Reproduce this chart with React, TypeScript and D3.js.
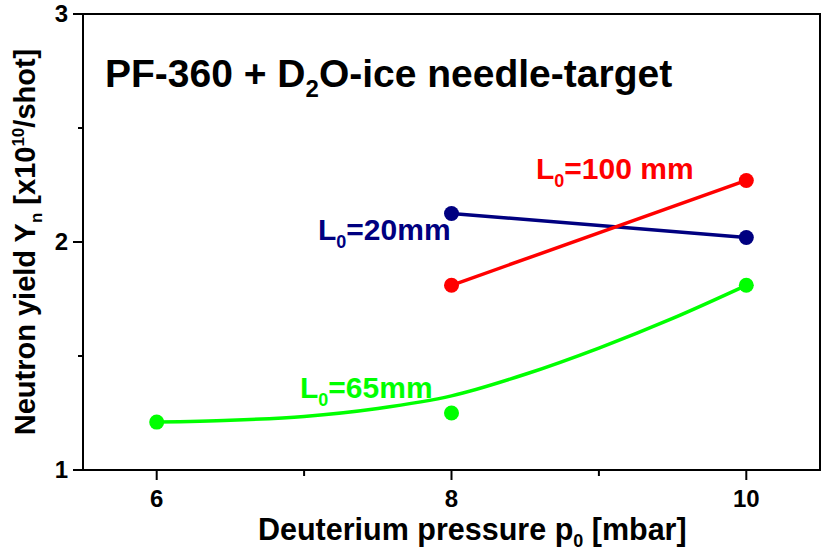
import * as d3 from "d3";

// data
const PRESSURE_L20 = [8, 10];
const YIELD_L20 = [2.125, 2.02];

const PRESSURE_L100 = [8, 10];
const YIELD_L100 = [1.81, 2.27];

const PRESSURE_L65 = [6, 8, 10];
const YIELD_L65 = [1.21, 1.25, 1.81];

// fitted curve drawn through the L0=65mm points
const FIT_X_L65 = [6, 6.5, 7, 7.5, 8, 8.5, 9, 9.5, 10];
const FIT_Y_L65 = [1.21, 1.218, 1.235, 1.27, 1.325, 1.42, 1.535, 1.665, 1.81];

const X_MAJOR = [6, 8, 10];
const X_MINOR = [7, 9];
const Y_MAJOR = [1, 2, 3];
const Y_MINOR = [1.5, 2.5];

const W = 822;
const H = 550;
const FRAME = { left: 83, right: 820, top: 14, bottom: 470 };
const FONT = "'Liberation Sans', Arial, sans-serif";

const NAVY = "#000080";
const RED = "#ff0000";
const GREEN = "#00ff00";

export default function App() {
  const x = d3.scaleLinear().domain([5.5, 10.5]).range([FRAME.left, FRAME.right]);
  const y = d3.scaleLinear().domain([1, 3]).range([FRAME.bottom, FRAME.top]);

  const straight = d3
    .line<[number, number]>()
    .x((d) => x(d[0]))
    .y((d) => y(d[1]));
  const smooth = straight.curve(d3.curveMonotoneX);

  const zip = (xs: number[], ys: number[]) =>
    xs.map((v, i) => [v, ys[i]] as [number, number]);

  const series = [
    { pts: zip(PRESSURE_L20, YIELD_L20), colour: NAVY, path: straight(zip(PRESSURE_L20, YIELD_L20)) },
    { pts: zip(PRESSURE_L100, YIELD_L100), colour: RED, path: straight(zip(PRESSURE_L100, YIELD_L100)) },
    { pts: zip(PRESSURE_L65, YIELD_L65), colour: GREEN, path: smooth(zip(FIT_X_L65, FIT_Y_L65)) },
  ];

  return (
    <svg
      width={W}
      height={H}
      style={{ position: "fixed", left: 0, top: 0, background: "#fff" }}
      fontFamily={FONT}
      fontWeight="bold"
    >
      {/* frame */}
      <rect
        x={FRAME.left}
        y={FRAME.top}
        width={FRAME.right - FRAME.left}
        height={FRAME.bottom - FRAME.top}
        fill="none"
        stroke="#000"
        strokeWidth={2}
      />

      {/* y ticks */}
      {Y_MAJOR.map((t) => (
        <g key={`ym${t}`}>
          <line x1={FRAME.left - 10} x2={FRAME.left} y1={y(t)} y2={y(t)} stroke="#000" strokeWidth={2} />
          <text x={FRAME.left - 15} y={y(t) + 8} textAnchor="end" fontSize={24}>
            {t}
          </text>
        </g>
      ))}
      {Y_MINOR.map((t) => (
        <line key={`yn${t}`} x1={FRAME.left - 5} x2={FRAME.left} y1={y(t)} y2={y(t)} stroke="#000" strokeWidth={2} />
      ))}

      {/* x ticks */}
      {X_MAJOR.map((t) => (
        <g key={`xm${t}`}>
          <line x1={x(t)} x2={x(t)} y1={FRAME.bottom} y2={FRAME.bottom + 10} stroke="#000" strokeWidth={2} />
          <text x={x(t)} y={FRAME.bottom + 37} textAnchor="middle" fontSize={24}>
            {t}
          </text>
        </g>
      ))}
      {X_MINOR.map((t) => (
        <line key={`xn${t}`} x1={x(t)} x2={x(t)} y1={FRAME.bottom} y2={FRAME.bottom + 6} stroke="#000" strokeWidth={2} />
      ))}

      {/* axis titles */}
      <text x={258} y={540} fontSize={30.5}>
        Deuterium pressure p<tspan fontSize={18} dy={7}>0</tspan>
        <tspan dy={-7}> [mbar]</tspan>
      </text>
      <text
        transform={`translate(35, ${(FRAME.top + FRAME.bottom) / 2}) rotate(-90)`}
        textAnchor="middle"
        fontSize={29}
      >
        Neutron yield Y<tspan fontSize={17} dy={7}>n</tspan>
        <tspan dy={-7}> [x10</tspan>
        <tspan fontSize={17} dy={-11}>10</tspan>
        <tspan dy={11}>/shot]</tspan>
      </text>

      {/* title */}
      <text x={105} y={87} fontSize={39}>
        PF-360 + D<tspan fontSize={24} dy={10}>2</tspan>
        <tspan dy={-10}>O-ice needle-target</tspan>
      </text>

      {/* series */}
      {series.map((s, i) => (
        <g key={i}>
          <path d={s.path ?? ""} fill="none" stroke={s.colour} strokeWidth={3.5} />
          {s.pts.map((p, j) => (
            <circle key={j} cx={x(p[0])} cy={y(p[1])} r={7.5} fill={s.colour} />
          ))}
        </g>
      ))}

      {/* series labels */}
      <text x={536} y={179} fontSize={30} fill={RED}>
        L<tspan fontSize={18} dy={8}>0</tspan>
        <tspan dy={-8}>=100 mm</tspan>
      </text>
      <text x={318} y={240} fontSize={30} fill={NAVY}>
        L<tspan fontSize={18} dy={8}>0</tspan>
        <tspan dy={-8}>=20mm</tspan>
      </text>
      <text x={300} y={398} fontSize={30} fill={GREEN}>
        L<tspan fontSize={18} dy={8}>0</tspan>
        <tspan dy={-8}>=65mm</tspan>
      </text>
    </svg>
  );
}
